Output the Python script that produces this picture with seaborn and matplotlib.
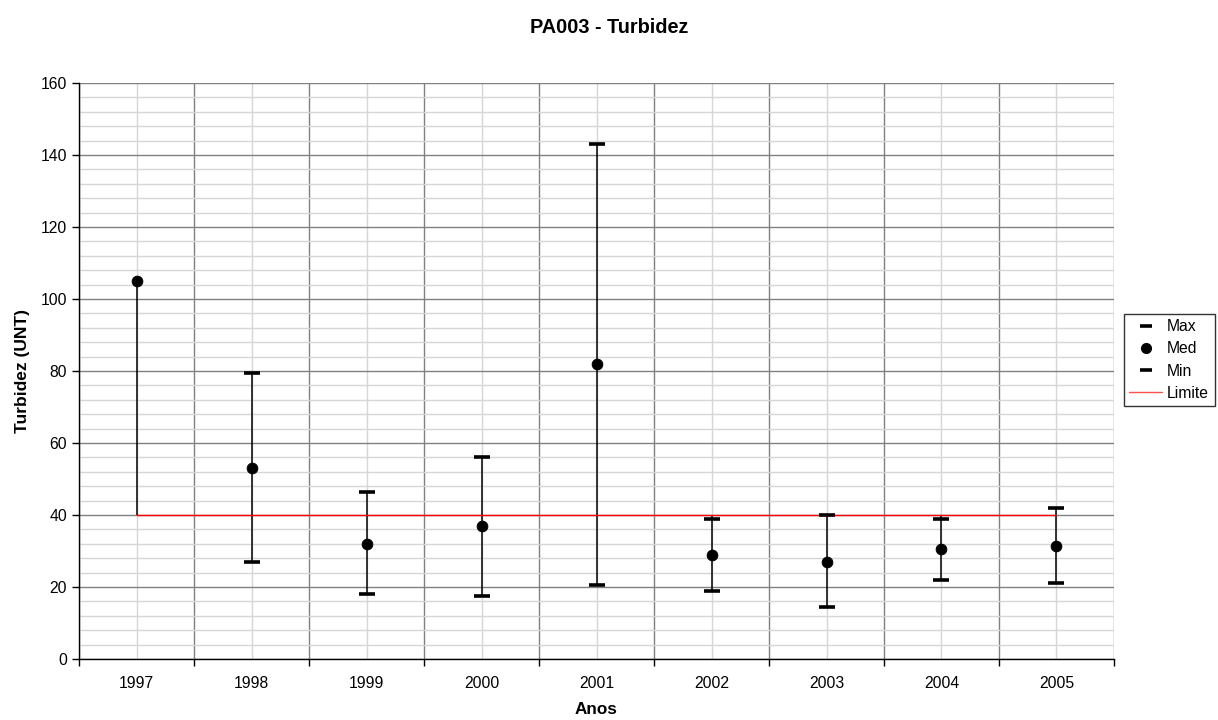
import matplotlib
matplotlib.use("Agg")
import matplotlib.pyplot as plt
from matplotlib.lines import Line2D
from matplotlib.ticker import MultipleLocator, FixedLocator
import seaborn as sns
import pandas as pd
import numpy as np

# data
anos = ["1997", "1998", "1999", "2000", "2001", "2002", "2003", "2004", "2005"]
v_max = [np.nan, 79.5, 46.5, 56.0, 143.0, 39.0, 40.0, 39.0, 42.0]
v_med = [105.0, 53.0, 32.0, 37.0, 82.0, 29.0, 27.0, 30.5, 31.5]
v_min = [np.nan, 27.0, 18.0, 17.5, 20.5, 19.0, 14.5, 22.0, 21.0]
limite = [40, 40, 40, 40, 40, 40, 40, 40, 40]

df = pd.DataFrame({"ano": anos, "Max": v_max, "Med": v_med, "Min": v_min, "Limite": limite})
df["x"] = np.arange(len(df))

sns.set_style("white")
plt.rcParams["font.family"] = ["Liberation Sans", "DejaVu Sans"]
plt.rcParams["text.color"] = "black"
plt.rcParams["axes.labelcolor"] = "black"
plt.rcParams["xtick.color"] = "black"
plt.rcParams["ytick.color"] = "black"

fig = plt.figure(figsize=(12.18, 7.2), dpi=100)
ax = fig.add_axes([0.0649, 0.0847, 0.8497, 0.8])

# high-low lines over all series (like Excel)
series = df[["Max", "Med", "Min", "Limite"]]
ax.vlines(df["x"], series.min(axis=1), series.max(axis=1), color="black", lw=1.1, zorder=3)

# limit line
sns.lineplot(data=df, x="x", y="Limite", color="red", lw=1.0, ax=ax, zorder=4, legend=False)

# markers
ax.plot(df["x"], df["Max"], ls="none", marker="_", ms=11, mew=2.6, color="black", zorder=5)
ax.plot(df["x"], df["Min"], ls="none", marker="_", ms=11, mew=2.6, color="black", zorder=5)
sns.scatterplot(data=df, x="x", y="Med", color="black", s=60, edgecolor="black", ax=ax, zorder=6, legend=False)

# axes / grid
ax.set_xlim(-0.5, len(anos) - 0.5)
ax.set_ylim(0, 160)
ax.yaxis.set_major_locator(MultipleLocator(20))
ax.yaxis.set_minor_locator(MultipleLocator(4))
ax.xaxis.set_major_locator(FixedLocator(np.arange(-0.5, len(anos), 1.0)))
ax.xaxis.set_minor_locator(FixedLocator(df["x"]))
ax.set_xticklabels([])
ax.set_xticklabels(anos, minor=True)
ax.tick_params(axis="x", which="major", length=5, width=1, color="black", direction="out", bottom=True)
ax.tick_params(axis="x", which="minor", length=0, pad=12, labelsize=11.3)
ax.tick_params(axis="y", which="major", length=5, width=1, color="black", direction="out", left=True, labelsize=11.3)
ax.tick_params(axis="y", which="minor", length=0)

ax.grid(True, which="major", color="#808080", lw=1.0, zorder=0)
ax.grid(True, which="minor", color="#d6d6d6", lw=1.0, zorder=0)
ax.set_axisbelow(True)

for side in ["top", "right"]:
    ax.spines[side].set_visible(False)
for side in ["left", "bottom"]:
    ax.spines[side].set_color("black")
    ax.spines[side].set_linewidth(1.0)

ax.set_xlabel("Anos", fontsize=12.3, fontweight="bold", labelpad=8)
ax.set_ylabel("Turbidez (UNT)", fontsize=12.5, fontweight="bold", labelpad=8)
fig.suptitle("PA003 - Turbidez", fontsize=14.3, fontweight="bold", y=0.975)

handles = [
    Line2D([], [], ls="none", marker="_", ms=8, mew=2.6, color="black"),
    Line2D([], [], ls="none", marker="o", ms=7, color="black"),
    Line2D([], [], ls="none", marker="_", ms=8, mew=2.6, color="black"),
    Line2D([], [], color="#ff5050", lw=1.0),
]
leg = fig.legend(handles, ["Max", "Med", "Min", "Limite"], loc="upper left",
                 bbox_to_anchor=(0.9228, 0.564), frameon=True, fancybox=False,
                 edgecolor="black", fontsize=11.3, handlelength=2.1, handletextpad=0.3,
                 borderpad=0.35, labelspacing=0.45, borderaxespad=0)
leg.get_frame().set_linewidth(1.0)

fig.savefig("out.png", dpi=100)
